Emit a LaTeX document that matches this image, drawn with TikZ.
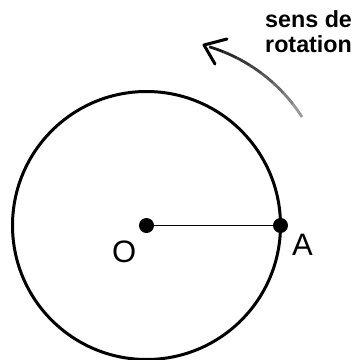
\documentclass[tikz,border=0pt]{standalone}
\usepackage{fontspec}
\setmainfont{Liberation Sans}
\usetikzlibrary{calc}
\begin{document}
\begin{tikzpicture}[x=1pt,y=-1pt,
  ring/.style={draw=black,line width=3pt},
  radius line/.style={draw=black,line width=1.4pt},
  dot/.style={circle,fill=black,inner sep=0pt,minimum size=15pt},
  lbl/.style={font=\fontsize{31}{31}\selectfont,inner sep=0pt,anchor=base west},
  note/.style={font=\fontsize{23.3}{25.5}\selectfont\bfseries,align=left,inner sep=0pt,anchor=base west}]
\useasboundingbox (0,0) rectangle (356,360);
% circle
\node[circle,ring,minimum size=268pt,inner sep=0pt] (C) at (146.5,225.5) {};
\node[dot] (O) at (146.5,225.5) {};
\node[dot] (A) at (280.5,225.5) {};
\draw[radius line] (O.center) -- (A.center);
\node[lbl] (Olbl) at (112,262) {O};
\node[lbl] (Albl) at (292,255) {A};
% rotation arrow (arc about (160.7,207.3), radius 167.7)
\coordinate (R) at (160.7,207.3);
\foreach \a/\b/\c in {32.6/38/40,38/43/50,43/48/58,48/53/65,53/58/72,58/63/78,63/68/84,68/73.2/90}{
  \draw[line width=2.8pt,black!\c] ($(R)+(-\a:167.7)$) arc[start angle=-\a,end angle=-\b,radius=167.7];
}
\coordinate (tip) at (204,45);
\draw[line width=3pt,line cap=round,line join=round] (227,39) -- (tip) -- (215,64);
\node[note] (txt) at (265,52.7) {sens de\\rotation};
\end{tikzpicture}
\end{document}
